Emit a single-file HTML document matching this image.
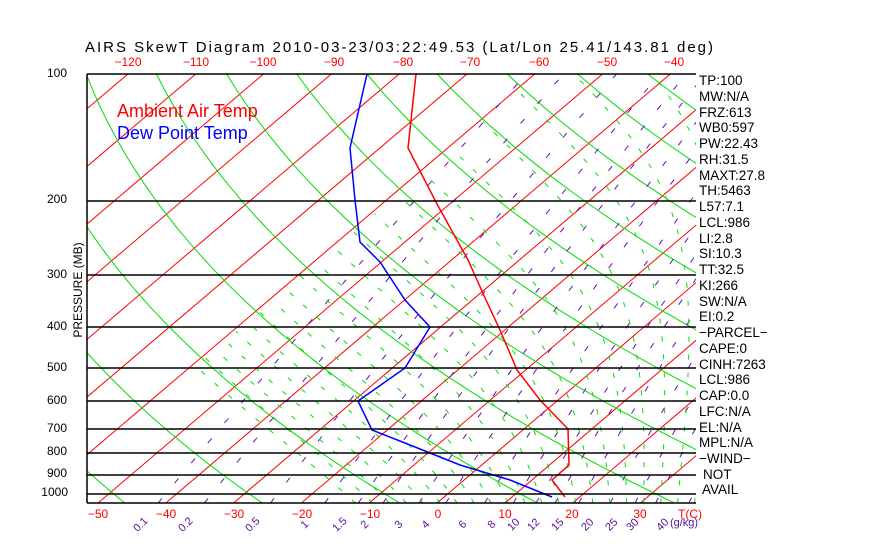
<!DOCTYPE html>
<html><head><meta charset="utf-8"><style>
html,body{margin:0;padding:0;background:#fff;width:870px;height:560px;overflow:hidden}
svg{display:block}
text{font-family:"Liberation Sans",sans-serif}
</style></head><body>
<svg id="s" width="870" height="560" xmlns="http://www.w3.org/2000/svg">
<defs><clipPath id="c"><rect x="87" y="74" width="609" height="429"/></clipPath></defs>
<g id="lines" clip-path="url(#c)"></g>
<g id="sound" clip-path="url(#c)">
<polyline fill="none" stroke="#f00" stroke-width="1.5" points="416,74 408,148 437,204 468,260 486,300 500,330 517,370 540,400 568,429 569,465 552,480 565,497"/>
<polyline fill="none" stroke="#00f" stroke-width="1.5" points="367,74 350,148 355,200 360,242 380,262 405,300 430,327 405,368 358,401 372,430 410,445 460,465 510,480 552,497"/>
</g>
<g stroke="#000" stroke-width="1.5">
<line x1="87" y1="74" x2="87" y2="503"/>
<line x1="87" y1="74" x2="696" y2="74"/>
<line x1="87" y1="201" x2="696" y2="201"/>
<line x1="87" y1="275" x2="696" y2="275"/>
<line x1="87" y1="327" x2="696" y2="327"/>
<line x1="87" y1="368" x2="696" y2="368"/>
<line x1="87" y1="401" x2="696" y2="401"/>
<line x1="87" y1="429" x2="696" y2="429"/>
<line x1="87" y1="453" x2="696" y2="453"/>
<line x1="87" y1="475" x2="696" y2="475"/>
<line x1="87" y1="494" x2="696" y2="494"/>
<line x1="87" y1="503" x2="696" y2="503"/>
</g>
<text x="85" y="52" font-family="Liberation Mono" font-size="15" textLength="628">AIRS SkewT Diagram 2010-03-23/03:22:49.53 (Lat/Lon 25.41/143.81 deg)</text>
<g font-size="12" fill="#f00" text-anchor="middle">
<text x="128" y="66">−120</text><text x="196" y="66">−110</text><text x="263" y="66">−100</text><text x="334" y="66">−90</text><text x="403" y="66">−80</text><text x="470" y="66">−70</text><text x="539" y="66">−60</text><text x="607" y="66">−50</text><text x="674" y="66">−40</text>
<text x="98" y="518">−50</text><text x="166" y="518">−40</text><text x="234" y="518">−30</text><text x="302" y="518">−20</text><text x="370" y="518">−10</text><text x="438" y="518">0</text><text x="505" y="518">10</text><text x="572" y="518">20</text><text x="640" y="518">30</text><text x="690" y="518">T(C)</text>
</g>
<g font-size="12" fill="#000" text-anchor="end">
<text x="67" y="77">100</text><text x="67" y="203">200</text><text x="67" y="278">300</text><text x="67" y="330">400</text><text x="67" y="371">500</text><text x="67" y="404">600</text><text x="67" y="432">700</text><text x="67" y="455">800</text><text x="67" y="477">900</text><text x="68" y="496">1000</text>
</g>
<text transform="translate(82,290) rotate(-90)" font-size="12" text-anchor="middle">PRESSURE (MB)</text>
<text x="117" y="117" font-size="18" fill="#f00">Ambient Air Temp</text>
<text x="117" y="139" font-size="18" fill="#00f">Dew Point Temp</text>
<g font-size="11" fill="#5a0fa0" text-anchor="middle" id="mrl"></g>
<g font-size="13.5" fill="#000">
<text x="699" y="85">TP:100</text><text x="699" y="101">MW:N/A</text><text x="699" y="117">FRZ:613</text><text x="699" y="132">WB0:597</text><text x="699" y="148">PW:22.43</text><text x="699" y="164">RH:31.5</text><text x="699" y="180">MAXT:27.8</text><text x="699" y="195">TH:5463</text><text x="699" y="211">L57:7.1</text><text x="699" y="227">LCL:986</text><text x="699" y="243">LI:2.8</text><text x="699" y="258">SI:10.3</text><text x="699" y="274">TT:32.5</text><text x="699" y="290">KI:266</text><text x="699" y="306">SW:N/A</text><text x="699" y="321">EI:0.2</text><text x="699" y="337">−PARCEL−</text><text x="699" y="353">CAPE:0</text><text x="699" y="369">CINH:7263</text><text x="699" y="384">LCL:986</text><text x="699" y="400">CAP:0.0</text><text x="699" y="416">LFC:N/A</text><text x="699" y="432">EL:N/A</text><text x="699" y="447">MPL:N/A</text><text x="699" y="463">−WIND−</text><text x="703" y="479">NOT</text><text x="702" y="494">AVAIL</text>
</g>
</svg>
<script>
var NS="http://www.w3.org/2000/svg",g=document.getElementById("lines");
function Y(p){return 74+182.5*Math.log(p/100);}
function X(T,p){return 437+6.78*T+1.176*(503-Y(p));}
function add(pts,col,dash,w){if(pts.length<2)return;var e=document.createElementNS(NS,"polyline");e.setAttribute("points",pts.map(function(a){return a[0].toFixed(1)+","+a[1].toFixed(1)}).join(" "));e.setAttribute("fill","none");e.setAttribute("stroke",col);e.setAttribute("stroke-width",w||1);if(dash)e.setAttribute("stroke-dasharray",dash);g.appendChild(e);}
for(var T=-160;T<=60;T+=10){add([[X(T,1050),Y(1050)],[X(T,100),Y(100)]],"#f00");}
for(var th=184;th<=560;th+=20){var pts=[];for(var p=1050;p>=100;p-=10){var t=th*Math.pow(p/1000,0.286)-273.15;pts.push([X(t,p),Y(p)]);}add(pts,"#0d0");}
var ws=[0.1,0.2,0.5,1,1.5,2,3,4,6,8,10,12,15,20,25,30,40];
function td(w,p){var e=w*p/(622+w);var l=Math.log(e/6.112);return 243.5*l/(17.67-l);}
ws.forEach(function(w){var pts=[];for(var p=1050;p>=100;p-=10){pts.push([X(td(w,p),p),Y(p)]);}add(pts,"#6010b0","6,20");});
function es(T){return 6.112*Math.exp(17.67*T/(T+243.5));}
function gam(T,p){var Tk=T+273.15,e=es(T),r=0.622*e/(p-e),Lv=2.5e6;var num=1+Lv*r/(287*Tk),den=1+Lv*Lv*r*0.622/(1005*287*Tk*Tk);return (287*Tk/(1005*p))*num/den;}
for(var T0=-12;T0<=46;T0+=2.5){var T=T0,pts=[];for(var p=1050;p>=100;p-=5){if(T<-60)break;pts.push([X(T,p),Y(p)]);T-=gam(T,p)*5;}add(pts,"#0d0","5,13");}
var lx=[[0.1,143],[0.2,188],[0.5,255],[1,307],[1.5,342],[2,367],[3,401],[4,428],[6,465],[8,494],[10,516],[12,536],[15,560],[20,590],[25,614],[30,635],[40,665]];
var m=document.getElementById("mrl");
lx.forEach(function(a){var t=document.createElementNS(NS,"text");t.setAttribute("transform","translate("+a[1]+",527) rotate(-45)");t.textContent=a[0];m.appendChild(t);});
var t=document.createElementNS(NS,"text");t.setAttribute("x","684");t.setAttribute("y","526");t.textContent="(g/kg)";m.appendChild(t);
</script>
</body></html>
